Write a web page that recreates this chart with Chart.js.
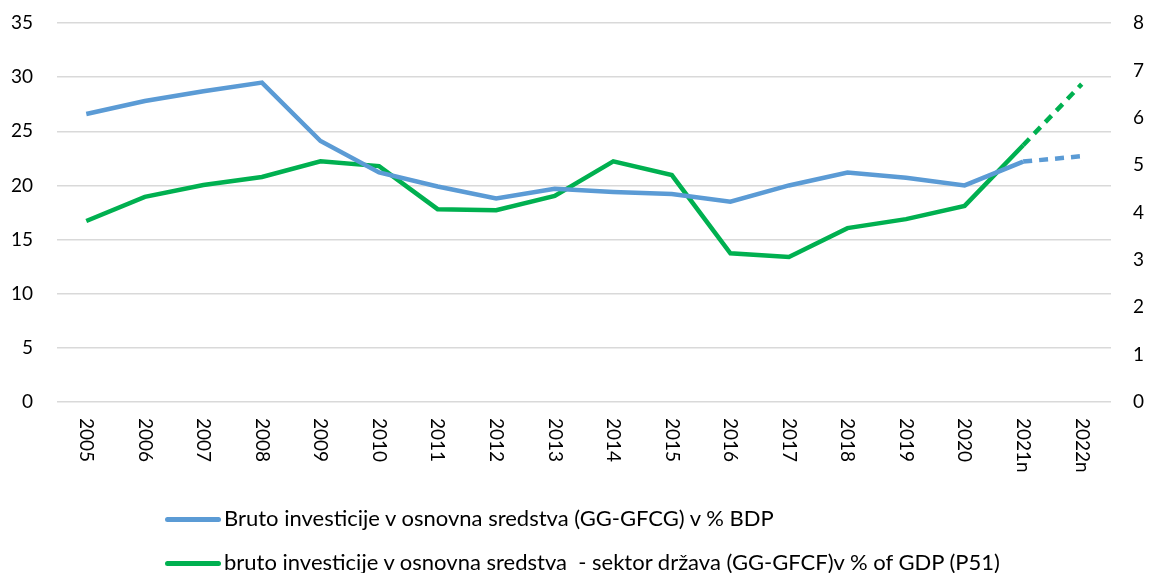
<!DOCTYPE html>
<html>
<head>
<meta charset="utf-8">
<script src="https://cdn.jsdelivr.net/npm/chart.js@4.4.0/dist/chart.umd.min.js"></script>
<style>
  body { margin: 0; background: #fff; }
  #wrap { position: relative; width: 1151px; height: 573px; }
  .leg { position: absolute; left: 165px; height: 26px; line-height: 26px; font: 22px Lato, sans-serif; color: #000; white-space: nowrap; }
  .leg span { display: inline-block; width: 56px; height: 5px; border-radius: 3px; vertical-align: middle; margin-right: 3px; position: relative; top: -1px; }
</style>
</head>
<body>
<div id="wrap">
  <canvas id="chart" width="1151" height="573"></canvas>
  <div class="leg" style="top:504px"><span style="background:#5b9bd5"></span>Bruto investicije v osnovna sredstva (GG-GFCG) v % BDP</div>
  <div class="leg" style="top:548px"><span style="background:#00b050"></span>bruto investicije v osnovna sredstva&nbsp; - sektor država (GG-GFCF)v % of GDP (P51)</div>
</div>
<script>
// ==================== DATA ====================
const years = ['2005', '2006', '2007', '2008', '2009', '2010', '2011', '2012', '2013', '2014', '2015', '2016', '2017', '2018', '2019', '2020', '2021n', '2022n'];
const gfcgShare = [26.6, 27.8, 28.7, 29.5, 24.1, 21.2, 19.9, 18.8, 19.7, 19.4, 19.2, 18.5, 20.0, 21.2, 20.7, 20.0, 22.2, 22.7];
const p51Share = [3.82, 4.33, 4.58, 4.75, 5.08, 4.98, 4.07, 4.05, 4.35, 5.08, 4.79, 3.14, 3.06, 3.67, 3.86, 4.14, 5.42, 6.71];
const legendNames = ['Bruto investicije v osnovna sredstva (GG-GFCG) v % BDP', 'bruto investicije v osnovna sredstva  - sektor država (GG-GFCF)v % of GDP (P51)'];

const FONT = 'Lato, sans-serif';

// rotated x labels (read top to bottom)
const xLabelPlugin = {
    id: 'xLabels',
    afterDraw(chart) {
        let ctx = chart.ctx;
        let xs = chart.scales.x;
        ctx.save();
        ctx.font = '19px ' + FONT;
        ctx.fillStyle = '#000';
        ctx.textAlign = 'left';
        ctx.textBaseline = 'middle';
        years.forEach(function(lab, i){
            let px = xs.getPixelForTick(i);
            ctx.save();
            ctx.translate(px, xs.top + 16);
            ctx.rotate(Math.PI / 2);
            ctx.fillText(lab, 0, 0);
            ctx.restore();
        });
        ctx.restore();
    }
};

// dashed forecast part
function dashLast(ctx){
    return ctx.p0DataIndex >= 16 ? [9, 7] : undefined;
}

// fixed axis width, no extra label padding above/below
function fixWidth(w){
    return function(s){
        s.width = w;
        s.paddingTop = 0;
        s.paddingBottom = 0;
    };
}

new Chart(document.getElementById('chart'), {
    type: 'line',
    data: {
        labels: years,
        datasets: [
            {
                label: legendNames[0],
                data: gfcgShare,
                yAxisID: 'y',
                borderColor: '#5b9bd5',
                borderWidth: 4.5,
                pointRadius: 0,
                tension: 0,
                segment: { borderDash: dashLast }
            },
            {
                label: legendNames[1],
                data: p51Share,
                yAxisID: 'y2',
                borderColor: '#00b050',
                borderWidth: 4.5,
                pointRadius: 0,
                tension: 0,
                segment: { borderDash: dashLast }
            }
        ]
    },
    options: {
        responsive: false,
        animation: false,
        layout: { padding: { top: 23, bottom: 81, left: 0, right: 0 } },
        plugins: {
            legend: { display: false },
            tooltip: { enabled: false }
        },
        scales: {
            x: {
                offset: true,
                grid: { display: false },
                border: { display: false },
                ticks: { display: false },
                afterFit: function(s){ s.height = 90; }
            },
            y: {
                position: 'left',
                min: 0, max: 35,
                ticks: { stepSize: 5, padding: 24, color: '#000', font: { family: FONT, size: 19 } },
                grid: { color: '#d9d9d9', lineWidth: 1.5, drawTicks: false },
                border: { display: false },
                afterFit: fixWidth(57)
            },
            y2: {
                position: 'right',
                min: 0, max: 8,
                ticks: { stepSize: 1, padding: 22, color: '#000', font: { family: FONT, size: 19 } },
                grid: { display: false, drawTicks: false },
                border: { display: false },
                afterFit: fixWidth(40)
            }
        }
    },
    plugins: [xLabelPlugin]
});
</script>
</body>
</html>
